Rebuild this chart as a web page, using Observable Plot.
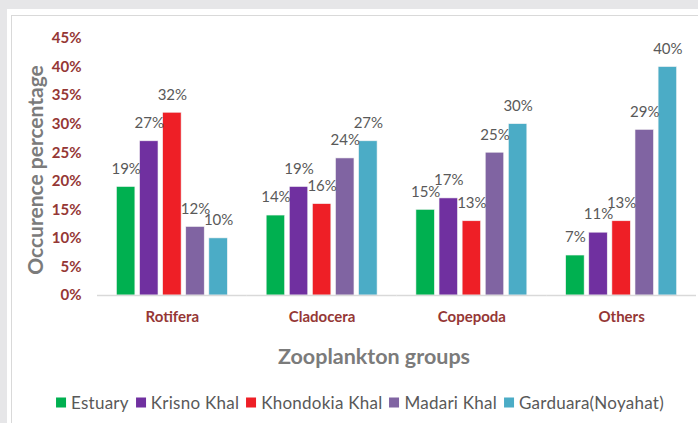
<!DOCTYPE html>
<html>
<head>
<meta charset="utf-8">
<script src="https://cdn.jsdelivr.net/npm/d3@7"></script>
<script src="https://cdn.jsdelivr.net/npm/@observablehq/plot@0.6"></script>
<style>
  html, body { margin: 0; padding: 0; }
  body { width: 698px; height: 423px; background: #e6e6e8; position: relative; overflow: hidden; font-family: Lato, "Open Sans", sans-serif; }
  #panel { position: absolute; left: 7px; top: 9px; right: 0; bottom: 0; background: #fff; }
  #frame { position: absolute; left: 11px; top: 15px; right: 0; bottom: 0; border-left: 1px solid #d9d9d9; border-top: 1px solid #d9d9d9; }
  #chart { position: absolute; left: 0; top: 0; width: 698px; }
  #ytitle { position: absolute; left: 34px; top: 170px; transform: translate(-50%, -50%) rotate(-90deg); white-space: nowrap; font-weight: bold; font-size: 21px; color: #7b7b7b; }
  #xtitle { position: absolute; left: 374px; top: 356px; transform: translate(-50%, -50%); white-space: nowrap; font-weight: bold; font-size: 21.5px; color: #7b7b7b; }
  #legend { position: absolute; left: 360px; top: 402px; transform: translate(-50%, -50%); display: flex; gap: 7px; white-space: nowrap; font-size: 17px; letter-spacing: 0.25px; color: #595959; align-items: center; }
  #legend .item { display: flex; align-items: center; gap: 5px; }
  #legend .sw { width: 10px; height: 10px; display: inline-block; }
</style>
</head>
<body>
<div id="panel"></div>
<div id="frame"></div>
<div id="chart"></div>
<div id="ytitle">Occurence percentage</div>
<div id="xtitle">Zooplankton groups</div>
<div id="legend"></div>
<script>
const groups = ["Rotifera", "Cladocera", "Copepoda", "Others"];
const series = ["Estuary", "Krisno Khal", "Khondokia Khal", "Madari Khal", "Garduara(Noyahat)"];
const estuary = [19, 14, 15, 7];
const krisnoKhal = [27, 19, 17, 11];
const khondokiaKhal = [32, 16, 13, 13];
const madariKhal = [12, 24, 25, 29];
const garduara = [10, 27, 30, 40];
const yTicks = [0, 5, 10, 15, 20, 25, 30, 35, 40, 45];
const colors = ["#00b050", "#7030a0", "#ee1f26", "#8064a2", "#4bacc6"];

const seriesValues = [estuary, krisnoKhal, khondokiaKhal, madariKhal, garduara];
const data = [];
groups.forEach((g, gi) => {
  series.forEach((s, si) => {
    data.push({group: g, series: s, value: seriesValues[si][gi]});
  });
});

const chart = Plot.plot({
  width: 698,
  height: 385,
  marginLeft: 97,
  marginRight: 2,
  marginTop: 38,
  marginBottom: 90,
  style: {background: "transparent", fontFamily: "Lato, 'Open Sans', sans-serif"},
  fx: {domain: groups, padding: 0, round: false, axis: null},
  x: {domain: series, paddingInner: 0.2, paddingOuter: 0.84, round: false, axis: null},
  y: {domain: [0, 45], axis: null},
  color: {domain: series, range: colors},
  marks: [
    Plot.barY(data, {fx: "group", x: "series", y: "value", fill: "series", stroke: "#f4f4f4", strokeWidth: 0.6}),
    Plot.ruleY([0], {stroke: "#d9d9d9", strokeWidth: 1.5}),
    Plot.text(data, {fx: "group", x: "series", y: "value", text: d => d.value + "%", dy: -18, fill: "#595959", fontSize: 15}),
    Plot.axisY({ticks: yTicks, tickFormat: d => d + "%", tickSize: 0, tickPadding: 16, label: null, fill: "#953735", fontWeight: "bold", fontSize: 15}),
    Plot.axisFx({anchor: "bottom", tickSize: 0, tickPadding: 16, label: null, fill: "#953735", fontWeight: "bold", fontSize: 15})
  ]
});
document.getElementById("chart").appendChild(chart);

const legend = document.getElementById("legend");
series.forEach((s, i) => {
  const item = document.createElement("span");
  item.className = "item";
  const sw = document.createElement("span");
  sw.className = "sw";
  sw.style.background = colors[i];
  const t = document.createElement("span");
  t.textContent = s;
  item.appendChild(sw);
  item.appendChild(t);
  legend.appendChild(item);
});
</script>
</body>
</html>
